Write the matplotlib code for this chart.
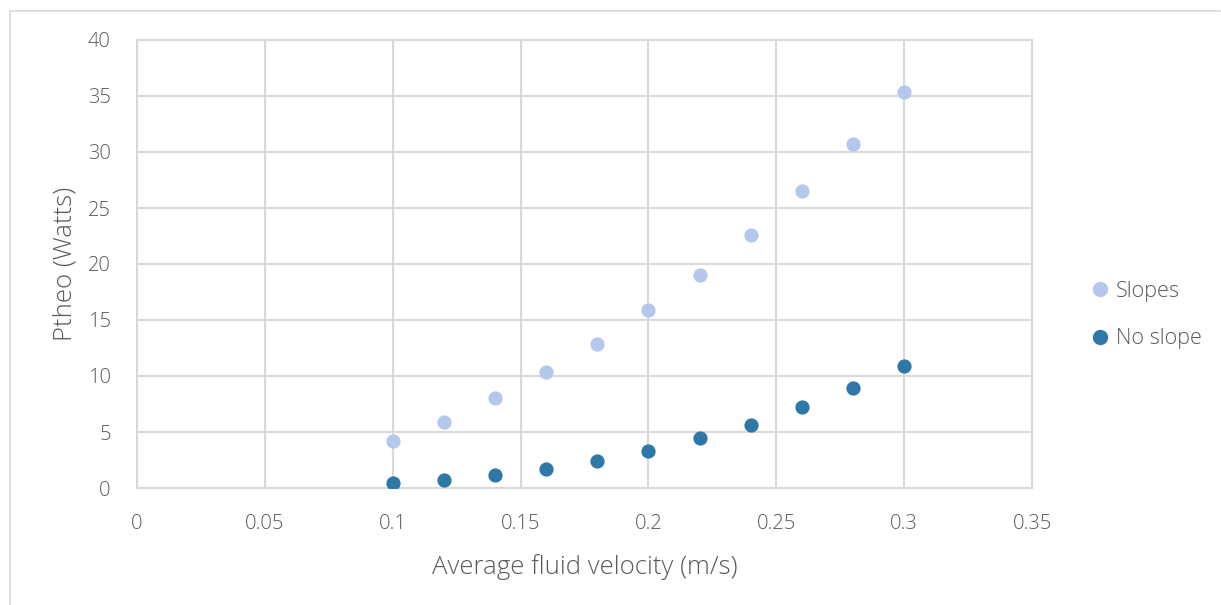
import matplotlib

matplotlib.use("Agg")
import matplotlib.pyplot as plt  # noqa: E402
from matplotlib.lines import Line2D  # noqa: E402

# Average fluid velocity (m/s) vs theoretical power (W)
velocity = [0.10, 0.12, 0.14, 0.16, 0.18, 0.20, 0.22, 0.24, 0.26, 0.28, 0.30]
slopes = [4.2, 5.9, 8.0, 10.35, 12.9, 15.9, 19.0, 22.6, 26.5, 30.7, 35.4]
no_slope = [0.47, 0.74, 1.16, 1.72, 2.44, 3.3, 4.46, 5.6, 7.2, 8.9, 10.9]

x_ticks = [0, 0.05, 0.1, 0.15, 0.2, 0.25, 0.3, 0.35]
x_labels = ["0", "0.05", "0.1", "0.15", "0.2", "0.25", "0.3", "0.35"]
y_ticks = [0, 5, 10, 15, 20, 25, 30, 35, 40]

GRID = "#d9d9d9"
TEXT = "#595959"
LIGHT = "#b4c7ec"
DARK = "#2e78a8"

plt.rcParams["font.family"] = ["Open Sans", "DejaVu Sans"]

fig = plt.figure(figsize=(12.21, 6.05), dpi=100)
ax = fig.add_axes([137 / 1221, 1 - 488 / 605, (1032 - 137) / 1221, (488 - 40) / 605])

ax.scatter(velocity, slopes, s=105, color=LIGHT, zorder=3, linewidths=0)
ax.scatter(velocity, no_slope, s=105, color=DARK, zorder=3, linewidths=0)

ax.set_xlim(0, 0.35)
ax.set_ylim(0, 40)
ax.set_xticks(x_ticks)
ax.set_xticklabels(x_labels)
ax.set_yticks(y_ticks)
ax.grid(True, color=GRID, linewidth=1.5)
ax.set_axisbelow(True)
for sp in ax.spines.values():
    sp.set_color(GRID)
    sp.set_linewidth(1.5)
ax.tick_params(length=0, labelsize=14.5, colors=TEXT)
ax.tick_params(axis="x", pad=19)
ax.tick_params(axis="y", pad=19)
for lab in ax.get_xticklabels() + ax.get_yticklabels():
    lab.set_fontweight("light")
ax.set_xlabel("Average fluid velocity (m/s)", fontsize=18.5, color=TEXT,
              fontweight="light", labelpad=14)
ax.set_ylabel("Ptheo (Watts)", fontsize=18.5, color=TEXT,
              fontweight="light", labelpad=7)

handles = [
    Line2D([], [], marker="o", linestyle="", markersize=10, color=LIGHT, label="Slopes"),
    Line2D([], [], marker="o", linestyle="", markersize=10, color=DARK, label="No slope"),
]
leg = fig.legend(handles=handles, loc="center left", bbox_to_anchor=(1091 / 1221, 1 - 315 / 605),
                 frameon=False, fontsize=15.5, labelspacing=1.25, handlelength=0.8,
                 handletextpad=0.36, borderpad=0, borderaxespad=0, labelcolor=TEXT)
for t in leg.get_texts():
    t.set_fontweight("light")

# outer chart border (left and top edges visible)
fig.add_artist(Line2D([10 / 1221, 10 / 1221], [0, 1 - 11 / 605], color=GRID,
                      linewidth=1.2, transform=fig.transFigure))
fig.add_artist(Line2D([10 / 1221, 1220 / 1221], [1 - 11 / 605, 1 - 11 / 605], color=GRID,
                      linewidth=1.2, transform=fig.transFigure))

fig.savefig("out.png", dpi=100)
